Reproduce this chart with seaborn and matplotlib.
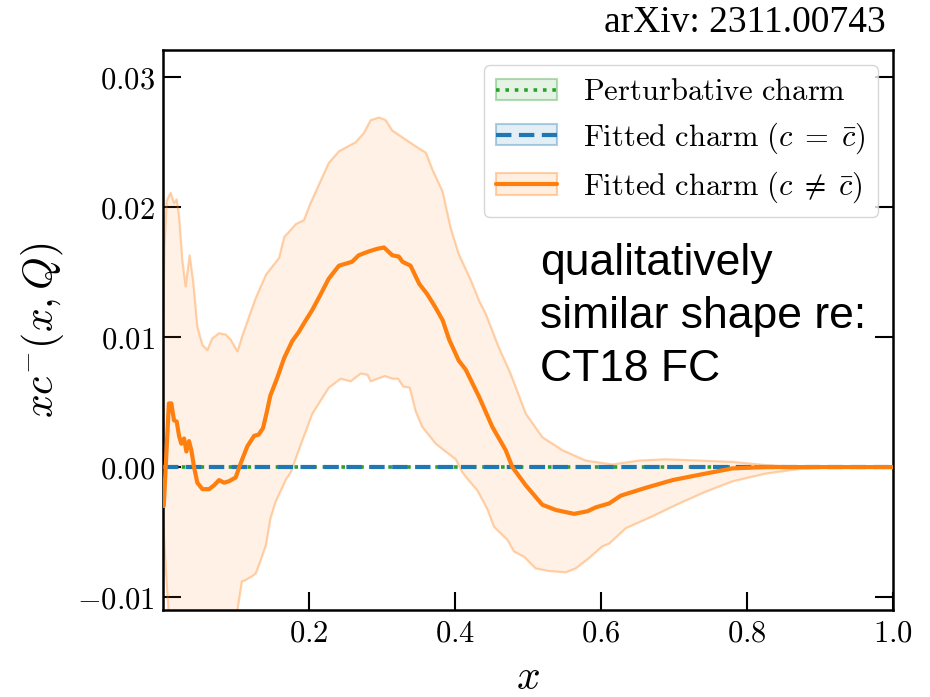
import numpy as np
import pandas as pd
import matplotlib
matplotlib.use("Agg")
import matplotlib.pyplot as plt
from matplotlib.patches import Patch
from matplotlib.lines import Line2D
import seaborn as sns

# ---- data -----------------------------------------------------------------
# central value of x c^-(x, Q) for the fit with c != cbar
cent_x = [0.001, 0.006, 0.008, 0.0114, 0.015, 0.0187, 0.022, 0.025, 0.0288, 0.032,
          0.0356, 0.0388, 0.0425, 0.047, 0.054, 0.063, 0.070, 0.0767, 0.0836, 0.090,
          0.0995, 0.1064, 0.1155, 0.1247, 0.131, 0.137, 0.142, 0.147, 0.156, 0.166,
          0.177, 0.186, 0.1945, 0.2045, 0.215, 0.227, 0.241, 0.259, 0.268, 0.282,
          0.2936, 0.3027, 0.314, 0.323, 0.328, 0.339, 0.351, 0.362, 0.373, 0.383,
          0.392, 0.405, 0.4146, 0.433, 0.451, 0.4694, 0.4785, 0.4968, 0.5196, 0.538,
          0.563, 0.5813, 0.5927, 0.611, 0.627, 0.661, 0.698, 0.734, 0.7616, 0.78,
          0.826, 0.9, 1.0]
cent_y = [-0.0030, 0.0026, 0.0049, 0.0049, 0.0036, 0.0035, 0.0024, 0.0018, 0.0022, 0.0012,
          0.0020, 0.0013, 0.0000, -0.0012, -0.0017, -0.0017, -0.0014, -0.0010, -0.0012, -0.0011,
          -0.0008, 0.0003, 0.0016, 0.0024, 0.0025, 0.0030, 0.0042, 0.0055, 0.0068, 0.0084,
          0.0097, 0.0104, 0.0112, 0.0121, 0.0132, 0.0145, 0.0155, 0.0158, 0.0163, 0.0166,
          0.0168, 0.0169, 0.0163, 0.0162, 0.0158, 0.0155, 0.0141, 0.0133, 0.0123, 0.0113,
          0.0098, 0.0082, 0.0075, 0.0054, 0.0031, 0.0013, 0.0000, -0.0014, -0.0029, -0.0033,
          -0.0036, -0.0034, -0.0031, -0.0028, -0.0022, -0.0016, -0.0010, -0.0006, -0.0003, -0.0001,
          0.0, 0.0, 0.0]

# upper edge of the uncertainty band
up_x = [0.000, 0.002, 0.005, 0.0105, 0.015, 0.0187, 0.022, 0.0265, 0.031, 0.0365,
        0.0415, 0.047, 0.054, 0.0607, 0.0675, 0.0767, 0.0858, 0.0927, 0.102, 0.1087,
        0.118, 0.127, 0.141, 0.159, 0.166, 0.182, 0.193, 0.202, 0.227, 0.241,
        0.264, 0.275, 0.2845, 0.296, 0.305, 0.314, 0.3325, 0.351, 0.360, 0.369,
        0.383, 0.394, 0.405, 0.4215, 0.433, 0.442, 0.460, 0.476, 0.497, 0.5196,
        0.547, 0.579, 0.6155, 0.652, 0.6886, 0.734, 0.78, 0.8256, 0.87, 1.0]
up_y = [0.0100, 0.0170, 0.0205, 0.0211, 0.0203, 0.0206, 0.0193, 0.0159, 0.0139, 0.0163,
        0.0142, 0.0108, 0.0094, 0.0090, 0.0099, 0.0103, 0.0102, 0.0098, 0.0089, 0.0101,
        0.0116, 0.0130, 0.0148, 0.0161, 0.0177, 0.0187, 0.0190, 0.0203, 0.0234, 0.0243,
        0.0250, 0.0257, 0.0267, 0.0269, 0.0267, 0.0259, 0.0252, 0.0245, 0.0242, 0.0229,
        0.0212, 0.0184, 0.0164, 0.0144, 0.0128, 0.0118, 0.0092, 0.0072, 0.0041, 0.0023,
        0.0013, 0.0005, 0.0002, 0.0005, 0.0006, 0.0005, 0.0004, 0.00015, 0.00003, 0.0]

# lower edge of the uncertainty band
lo_x = [0.000, 0.004, 0.008, 0.015, 0.030, 0.050, 0.075, 0.095, 0.102, 0.108,
        0.113, 0.122, 0.127, 0.133, 0.141, 0.147, 0.154, 0.168, 0.175, 0.1886,
        0.2045, 0.227, 0.2434, 0.257, 0.271, 0.280, 0.2845, 0.2936, 0.304, 0.314,
        0.322, 0.329, 0.338, 0.346, 0.355, 0.3735, 0.387, 0.401, 0.410, 0.417,
        0.4306, 0.444, 0.4534, 0.4717, 0.4808, 0.4945, 0.5105, 0.5288, 0.5516, 0.5653,
        0.5836, 0.6018, 0.611, 0.634, 0.670, 0.707, 0.743, 0.780, 0.8256, 0.871,
        0.917, 1.0]
lo_y = [-0.0040, -0.0080, -0.0115, -0.0150, -0.0180, -0.0190, -0.0170, -0.0125, -0.0110, -0.0088,
        -0.0087, -0.0084, -0.0082, -0.0073, -0.0060, -0.0040, -0.0027, -0.0010, -0.0004, 0.0017,
        0.0041, 0.0061, 0.0068, 0.0066, 0.0072, 0.0071, 0.0066, 0.0068, 0.0070, 0.0068,
        0.0068, 0.0062, 0.0061, 0.0043, 0.0031, 0.0018, 0.0012, 0.0006, -0.0004, -0.0009,
        -0.0018, -0.0032, -0.0046, -0.0056, -0.0065, -0.0069, -0.0078, -0.0080, -0.0081, -0.0078,
        -0.0070, -0.0061, -0.0059, -0.0047, -0.0038, -0.0028, -0.0019, -0.0011, -0.0005, -0.00015,
        0.0, 0.0]

# perturbative charm and symmetric fitted charm: c^- vanishes identically
zero_x = [0.0, 1.0]
pert_y = [0.0, 0.0]
sym_y = [0.0, 0.0]

y_ticks = [-0.01, 0.0, 0.01, 0.02, 0.03]
y_ticklabels = [r"$-0.01$", r"$0.00$", r"$0.01$", r"$0.02$", r"$0.03$"]
x_ticks = [0.2, 0.4, 0.6, 0.8, 1.0]
x_ticklabels = [r"$0.2$", r"$0.4$", r"$0.6$", r"$0.8$", r"$1.0$"]

labels = [r"$\mathrm{Perturbative\ charm}$",
          r"$\mathrm{Fitted\ charm}\ (c\;=\;\bar{c})$",
          r"$\mathrm{Fitted\ charm}\ (c\;\neq\;\bar{c})$"]

# ---- style ----------------------------------------------------------------
sns.set_style("ticks")
plt.rcParams["mathtext.fontset"] = "cm"
plt.rcParams["font.family"] = ["DejaVu Sans"]
for key in ("text.color", "axes.labelcolor", "xtick.color", "ytick.color",
            "axes.edgecolor"):
    plt.rcParams[key] = "black"

C_GREEN = "#2ca02c"
C_BLUE = "#1f77b4"
C_ORANGE = "#ff7f0e"

fig = plt.figure(figsize=(9.3, 6.97), dpi=100)
ax = fig.add_axes([0.1753, 0.1248, 0.7850, 0.8035])

cent = pd.DataFrame({"x": cent_x, "y": cent_y})
up = pd.DataFrame({"x": up_x, "y": up_y})
lo = pd.DataFrame({"x": lo_x, "y": lo_y})

# uncertainty band: polygon closed along upper edge then lower edge reversed
ax.fill(np.concatenate([up["x"], lo["x"][::-1]]),
        np.concatenate([up["y"], lo["y"][::-1]]),
        color=C_ORANGE, alpha=0.10, lw=0, zorder=1)
sns.lineplot(data=up, x="x", y="y", ax=ax, color=C_ORANGE, alpha=0.35,
             lw=1.6, estimator=None, sort=False, zorder=2)
sns.lineplot(data=lo, x="x", y="y", ax=ax, color=C_ORANGE, alpha=0.35,
             lw=1.6, estimator=None, sort=False, zorder=2)

sns.lineplot(x=zero_x, y=pert_y, ax=ax, color=C_GREEN, lw=2.6,
             linestyle=(0, (1, 1.6)), estimator=None, zorder=3)
sns.lineplot(x=zero_x, y=sym_y, ax=ax, color=C_BLUE, lw=3.0,
             linestyle=(0, (3.7, 1.8)), estimator=None, zorder=4)
sns.lineplot(data=cent, x="x", y="y", ax=ax, color=C_ORANGE, lw=3.0,
             estimator=None, sort=False, zorder=5)

ax.set_xlim(0.0, 1.0)
ax.set_ylim(-0.0110, 0.0321)
ax.set_xticks(x_ticks)
ax.set_xticklabels(x_ticklabels)
ax.set_yticks(y_ticks)
ax.set_yticklabels(y_ticklabels)
ax.tick_params(axis="both", direction="in", length=13, width=1.5,
               labelsize=22, pad=6, right=True, top=False, colors="black")
for sp in ax.spines.values():
    sp.set_linewidth(1.8)
    sp.set_color("black")

ax.set_xlabel(r"$x$", fontsize=30, labelpad=6)
ax.set_ylabel(r"$xc^{-}(x,Q)$", fontsize=30, labelpad=8)

# legend: light band patch with the line drawn over it
def band_handle(color, ls, lw):
    patch = Patch(facecolor=matplotlib.colors.to_rgba(color, 0.12),
                  edgecolor=matplotlib.colors.to_rgba(color, 0.35), lw=1.5)
    line = Line2D([], [], color=color, ls=ls, lw=lw)
    return (patch, line)

handles = [band_handle(C_GREEN, (0, (1, 1.6)), 2.6),
           band_handle(C_BLUE, (0, (3.7, 1.8)), 3.0),
           band_handle(C_ORANGE, "-", 3.0)]
leg = ax.legend(handles, labels, loc="upper right", fontsize=22,
                frameon=True, fancybox=True, framealpha=0.8,
                edgecolor="0.8", handlelength=2.0, handletextpad=0.85,
                labelspacing=0.45)

ax.text(0.516, 0.655, "qualitatively\nsimilar shape re:\nCT18 FC",
        transform=ax.transAxes, ha="left", va="top", fontsize=32,
        color="black", family=["Liberation Sans", "DejaVu Sans"],
        linespacing=1.37, zorder=6)

fig.text(0.952, 0.968, "arXiv: 2311.00743", ha="right", va="center",
         fontsize=27, color="black",
         family=["Liberation Serif", "DejaVu Serif"])

fig.savefig("out.png", dpi=100)
